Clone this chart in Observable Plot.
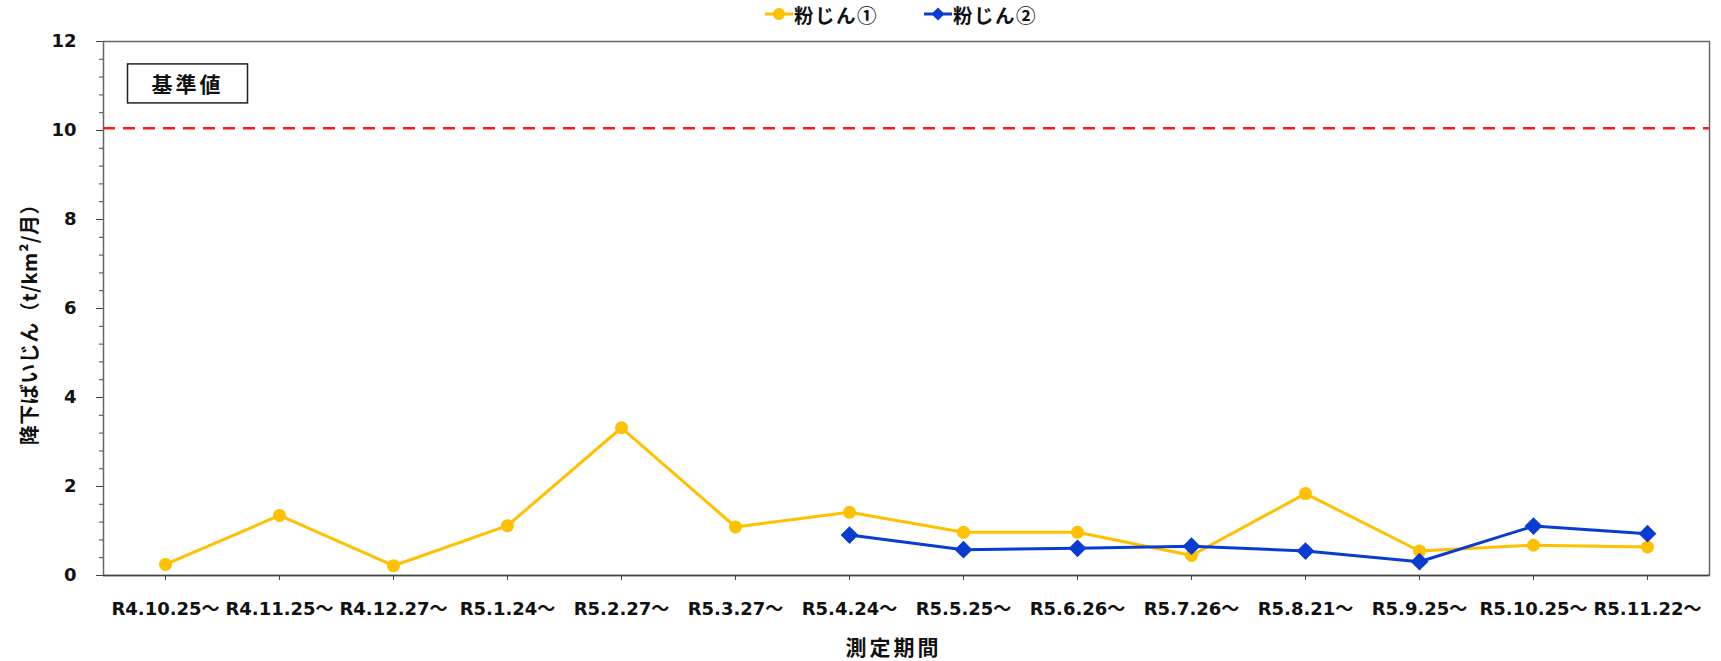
<!DOCTYPE html>
<html>
<head>
<meta charset="utf-8">
<script src="https://cdn.jsdelivr.net/npm/d3@7"></script>
<script src="https://cdn.jsdelivr.net/npm/@observablehq/plot@0.6"></script>
<style>
  body { margin: 0; background: #fff; font-family: 'DejaVu Sans', 'Noto Sans CJK JP', sans-serif; }
  #legend { position: relative; height: 28px; font-weight: bold; font-size: 19.5px; color: #111; font-family: 'Noto Sans CJK JP', sans-serif; letter-spacing: 1.5px; }
  .item { position: absolute; top: 0; height: 28px; display: flex; align-items: center; }
  .item svg { margin-right: 1px; }
</style>
</head>
<body>
<div id="legend"></div>
<div id="chart"></div>
<script>
const periods = ["R4.10.25～","R4.11.25～","R4.12.27～","R5.1.24～","R5.2.27～","R5.3.27～","R5.4.24～","R5.5.25～","R5.6.26～","R5.7.26～","R5.8.21～","R5.9.25～","R5.10.25～","R5.11.22～"];
const dust1 = [0.25, 1.35, 0.22, 1.12, 3.32, 1.09, 1.42, 0.97, 0.97, 0.45, 1.84, 0.55, 0.68, 0.64];
const dust2 = [null, null, null, null, null, null, 0.91, 0.58, 0.61, 0.66, 0.55, 0.31, 1.11, 0.94];
const seriesNames = ["粉じん①", "粉じん②"];
const seriesColors = ["#ffc000", "#0a3cd2"];
const standard = 10.05;
const standardLabel = "基準値";
const yTicks = [0, 2, 4, 6, 8, 10, 12];
const yLabel = "降下ばいじん（t/km²/月）";
const xLabel = "測定期間";

const rows = periods.map((p, i) => ({period: p, s1: dust1[i], s2: dust2[i]}));
const rows2 = rows.filter(d => d.s2 != null);

// legend
const legend = document.getElementById("legend");
const legendLeft = [765, 924];
seriesNames.forEach((name, i) => {
  const item = document.createElement("div");
  item.className = "item";
  item.style.left = legendLeft[i] + "px";
  const marker = i === 0
    ? `<circle cx="14" cy="8" r="6" fill="${seriesColors[i]}"/>`
    : `<path d="M14,1.5 L20.5,8 L14,14.5 L7.5,8 Z" fill="${seriesColors[i]}"/>`;
  item.innerHTML = `<svg width="28" height="16"><line x1="0" y1="8" x2="28" y2="8" stroke="${seriesColors[i]}" stroke-width="3"/>${marker}</svg><span>${name}</span>`;
  legend.appendChild(item);
});

const cjk = "'Noto Sans CJK JP', sans-serif";
const plot = Plot.plot({
  width: 1721,
  height: 633,
  marginLeft: 103,
  marginRight: 12,
  marginTop: 13,
  marginBottom: 86,
  style: {fontFamily: "'DejaVu Sans', 'Noto Sans CJK JP', sans-serif", fontSize: "18px", fontWeight: "bold", color: "#111", background: "#fff"},
  x: {type: "point", domain: periods, padding: 0.5},
  y: {domain: [0, 12]},
  marks: [
    Plot.frame({stroke: "#666", strokeWidth: 1.5}),
    Plot.axisY({ticks: d3.range(0, 12.001, 0.4), tickSize: 4, text: null, label: null, stroke: "#444"}),
    Plot.axisY({ticks: yTicks, tickSize: 7, tickPadding: 20, label: null, stroke: "#444", fontSize: 18, fontWeight: "bold"}),
    Plot.axisX({tickSize: 5, tickPadding: 22, label: null, stroke: "#444", fontSize: 18, fontWeight: "bold"}),
    Plot.ruleY([0], {stroke: "#444", strokeWidth: 1.5}),
    Plot.ruleY([standard], {stroke: "#ff1a1a", strokeWidth: 2.5, strokeDasharray: "12,8"}),
    Plot.line(rows, {x: "period", y: "s1", stroke: seriesColors[0], strokeWidth: 3}),
    Plot.dot(rows, {x: "period", y: "s1", fill: seriesColors[0], r: 6.5, symbol: "circle"}),
    Plot.line(rows2, {x: "period", y: "s2", stroke: seriesColors[1], strokeWidth: 3}),
    Plot.dot(rows2, {x: "period", y: "s2", fill: seriesColors[1], r: 8, symbol: "diamond2"}),
    Plot.text([standardLabel], {frameAnchor: "top-left", dx: 48, dy: 36, fontSize: 21, fontWeight: "bold", fontFamily: cjk, className: "kijun", fill: "#111"}),
    Plot.text([yLabel], {frameAnchor: "left", textAnchor: "middle", rotate: -90, dx: -73, dy: 11, fontSize: 20, fontWeight: "bold", fontFamily: cjk, className: "ylab", fill: "#111"}),
    Plot.text([xLabel], {frameAnchor: "bottom", dx: -13, dy: 79, fontSize: 21, fontWeight: "bold", fontFamily: cjk, className: "xlab", fill: "#111"})
  ]
});
document.getElementById("chart").appendChild(plot);

// letter spacing for CJK labels
d3.select(plot).selectAll(".kijun text").style("letter-spacing", "3px");
d3.select(plot).selectAll(".xlab text").style("letter-spacing", "3px");
d3.select(plot).selectAll(".ylab text").style("letter-spacing", "0.5px");

// box around the 基準値 label
const t = plot.querySelector(".kijun text");
if (t) {
  const b = t.getBBox();
  const cx = b.x + b.width / 2, cy = b.y + b.height / 2;
  const sp = plot.createSVGPoint(); sp.x = cx; sp.y = cy;
  const pt = sp.matrixTransform(t.getScreenCTM()).matrixTransform(plot.getScreenCTM().inverse());
  d3.select(plot).insert("rect", ".kijun")
    .attr("x", pt.x - 60).attr("y", pt.y - 19.5)
    .attr("width", 120).attr("height", 39)
    .attr("fill", "#fff").attr("stroke", "#222").attr("stroke-width", 1.5);
}
</script>
</body>
</html>
